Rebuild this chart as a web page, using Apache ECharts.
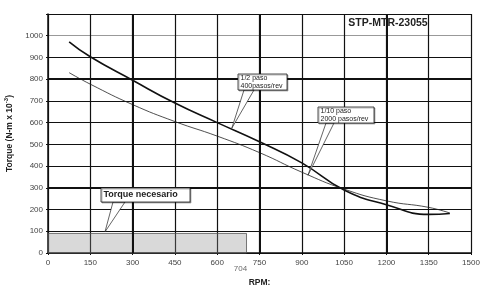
<!DOCTYPE html>
<html>
<head>
<meta charset="utf-8">
<script src="https://cdn.jsdelivr.net/npm/echarts@6/dist/echarts.min.js"></script>
<style>
  html, body { margin: 0; padding: 0; background: #fff; }
  #chart { width: 480px; height: 288px; }
</style>
</head>
<body>
<div id="chart"></div>
<script>
// curva 1/2 paso (400 pasos/rev)
const rpmHalf = [75, 150, 300, 450, 600, 750, 900, 1050, 1200, 1350, 1425];
const torqueHalf = [972, 903, 795, 690, 600, 512, 415, 290, 222, 178, 182];
// curva 1/10 paso (2000 pasos/rev)
const rpmTenth = [75, 150, 300, 450, 600, 750, 900, 1050, 1200, 1350, 1425];
const torqueTenth = [830, 777, 683, 605, 538, 462, 372, 294, 240, 210, 184];
// torque necesario
const needRpm = 704;
const needTorque = 90;

const font = '"Liberation Sans", Arial, sans-serif';
const chart = echarts.init(document.getElementById('chart'));

const pairs = (xs, ys) => xs.map((x, i) => [x, ys[i]]);
const yGridColors = ['#111','#111','#111','#111','#111','#111','#111','#111','#111','#111','#999','#111'];

chart.setOption({
    animation: false,
    grid: { left: 48, right: 9, top: 14, bottom: 35, outerBoundsMode: 'none', containLabel: false },
    xAxis: {
        type: 'value', min: 0, max: 1500, interval: 150,
        name: 'RPM:', nameLocation: 'middle', nameGap: 25,
        nameTextStyle: { fontFamily: font, fontSize: 8.5, fontWeight: 'bold', color: '#222' },
        axisLine: { lineStyle: { color: '#111', width: 1.5 } },
        axisTick: { show: true, length: 2, lineStyle: { color: '#111' } },
        axisLabel: { fontFamily: font, fontSize: 8, color: '#444', margin: 6, formatter: v => String(v) },
        splitLine: { show: true, lineStyle: { color: '#111', width: 1.2 } }
    },
    yAxis: {
        type: 'value', min: 0, max: 1100, interval: 100,
        name: 'Torque (N-m x 10{sup|-3})', nameLocation: 'middle', nameGap: 31,
        nameTextStyle: {
            fontFamily: font, fontSize: 8.5, fontWeight: 'bold', color: '#222',
            rich: { sup: { fontSize: 6, fontWeight: 'bold', verticalAlign: 'top', padding: [0, 0, 6, 0], color: '#222' } }
        },
        axisLine: { lineStyle: { color: '#111', width: 1.5 } },
        axisTick: { show: true, length: 2, lineStyle: { color: '#111' } },
        axisLabel: {
            fontFamily: font, fontSize: 8, color: '#444', margin: 5,
            formatter: v => (v > 1000 ? '' : String(v))
        },
        splitLine: { show: true, lineStyle: { color: yGridColors, width: 1.2 } }
    },
    series: [
        {
            type: 'line', data: [], silent: true,
            markArea: {
                silent: true,
                itemStyle: { color: 'rgba(140,140,140,0.33)', borderColor: '#555', borderWidth: 0.8 },
                data: [[{ coord: [0, 0] }, { coord: [needRpm, needTorque] }]]
            },
            markLine: {
                silent: true, symbol: 'none', label: { show: false },
                lineStyle: { color: '#111', width: 2, type: 'solid' },
                data: [{ xAxis: 300 }, { xAxis: 750 }, { xAxis: 1200 }, { yAxis: 300 }, { yAxis: 800 }]
            }
        },
        {
            name: '1/2 paso', type: 'line', smooth: 0.5, symbol: 'none',
            lineStyle: { color: '#111', width: 1.6 },
            data: pairs(rpmHalf, torqueHalf)
        },
        {
            name: '1/10 paso', type: 'line', smooth: 0.5, symbol: 'none',
            lineStyle: { color: '#222', width: 0.8 },
            data: pairs(rpmTenth, torqueTenth)
        },
        {
            type: 'scatter', symbolSize: 0, silent: true,
            data: [[needRpm, 0]],
            label: {
                show: true, position: 'bottom', distance: 12, offset: [-6, 0],
                formatter: String(needRpm), fontFamily: font, fontSize: 8, color: '#444'
            }
        }
    ]
});

// anotaciones con flecha
function callout(box, base, tip, lines, style) {
    return [
        {
            type: 'polygon', z: 100,
            shape: { points: [[base[0], base[1]], [base[2], base[1]], tip] },
            style: { fill: '#fff', stroke: '#222', lineWidth: 0.7 }
        },
        {
            type: 'rect', z: 101,
            shape: { x: box[0], y: box[1], width: box[2], height: box[3] },
            style: { fill: '#fff', stroke: '#222', lineWidth: 0.8, shadowColor: 'rgba(0,0,0,0.35)', shadowBlur: 0, shadowOffsetX: 1, shadowOffsetY: 1 }
        },
        {
            type: 'text', z: 102,
            x: box[0] + 2.5, y: box[1] + box[3] / 2,
            style: Object.assign({ text: lines.join('\n'), fill: '#222', fontFamily: font, verticalAlign: 'middle', align: 'left' }, style)
        }
    ];
}

const tipNeed = chart.convertToPixel({ gridIndex: 0 }, [202, 97]);
const tipHalf = chart.convertToPixel({ gridIndex: 0 }, [652, 575]);
const tipTenth = chart.convertToPixel({ gridIndex: 0 }, [922, 358]);

chart.setOption({
    graphic: [].concat(
        callout([101, 188, 89, 14], [113, 202, 125], tipNeed, ['Torque necesario'],
            { fontSize: 9, fontWeight: 'bold', lineHeight: 10 }),
        callout([238, 74, 49, 16], [244, 90, 254], tipHalf, ['1/2 paso', '400pasos/rev'],
            { fontSize: 7, lineHeight: 7.5 }),
        callout([318, 107, 56, 16], [326, 123, 334], tipTenth, ['1/10 paso', '2000 pasos/rev'],
            { fontSize: 7, lineHeight: 7.5 }),
        [{
            type: 'text', z: 102, x: 388, y: 23,
            style: { text: 'STP-MTR-23055', fontFamily: font, fontSize: 10.5, fontWeight: 'bold', fill: '#222', align: 'center', verticalAlign: 'middle' }
        }]
    )
});
</script>
</body>
</html>
